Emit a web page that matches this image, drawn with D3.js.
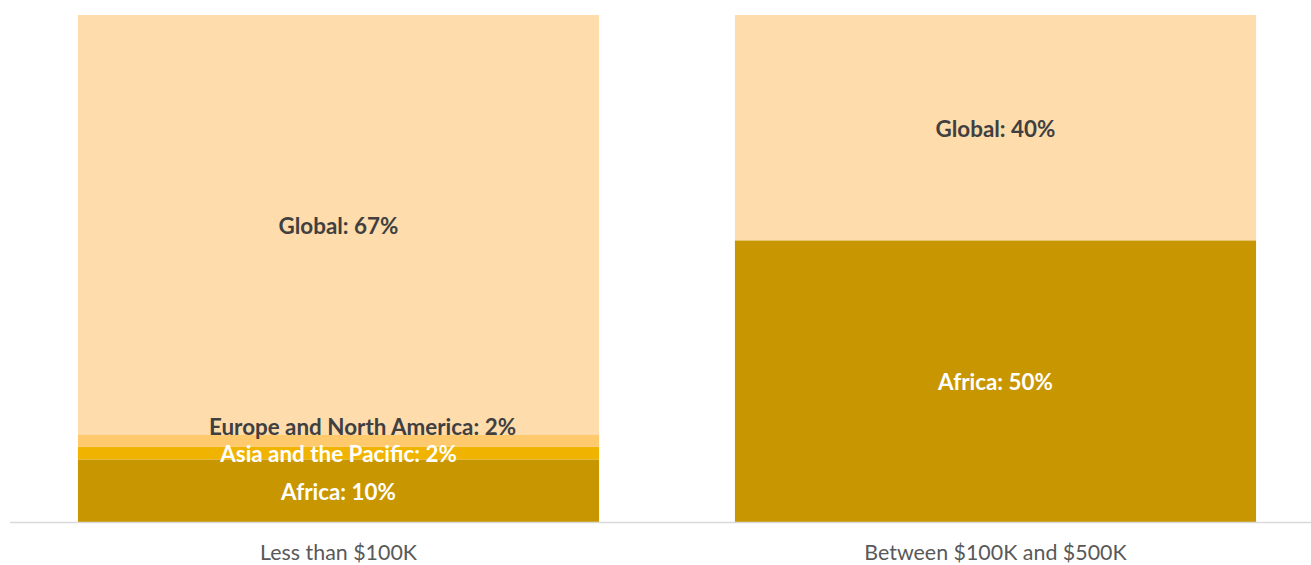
<!DOCTYPE html>
<html><head><meta charset="utf-8">
<script src="https://cdn.jsdelivr.net/npm/d3@7"></script>
<style>html,body{margin:0;padding:0;background:#fff;}svg{display:block;}</style>
</head><body>
<svg id="chart" width="1311" height="565"></svg>
<script>
const categories = ["Less than $100K", "Between $100K and $500K"];
const regions = ["Africa", "Asia and the Pacific", "Europe and North America", "Global"];
const africa = [10, 50];
const asiaPacific = [2, 0];
const europeNA = [2, 0];
const global = [67, 40];

const colors = {"Africa":"#C89600","Asia and the Pacific":"#F0B400","Europe and North America":"#FFCA6E","Global":"#FEDCAC"};
const labelColors = {"Africa":"#FFFFFF","Asia and the Pacific":"#FFFFFF","Europe and North America":"#404040","Global":"#404040"};

const seriesVals = [africa, asiaPacific, europeNA, global];
const rows = categories.map((c, i) => {
  const r = {category: c};
  regions.forEach((g, k) => r[g] = seriesVals[k][i]);
  return r;
});

const stack = d3.stack().keys(regions).offset(d3.stackOffsetExpand);
const series = stack(rows);

const svg = d3.select("#chart");
const x = d3.scaleBand().domain(categories).range([10, 1324]).paddingInner(0.2068).paddingOuter(0.1034);
const y = d3.scaleLinear().domain([0, 1]).range([522, 15]);

const g = svg.append("g");
series.forEach(s => {
  g.selectAll(null).data(s).enter().append("rect")
    .attr("x", d => x(d.data.category))
    .attr("width", x.bandwidth())
    .attr("y", d => y(d[1]))
    .attr("height", d => Math.max(0, y(d[0]) - y(d[1])))
    .attr("fill", colors[s.key]);
});

// axis line
svg.append("line").attr("x1", 10).attr("x2", 1311).attr("y1", 522.5).attr("y2", 522.5)
  .attr("stroke", "#D9D9D9").attr("stroke-width", 1.5);

// category labels
const xAxis = d3.axisBottom(x).tickSize(0).tickPadding(0);
const ax = svg.append("g").attr("transform", "translate(0,522)").call(xAxis);
ax.select(".domain").remove();
ax.selectAll("text").attr("dy", null).attr("y", 38)
  .attr("font-family", "Lato, 'Open Sans', sans-serif").attr("font-size", 21.4)
  .attr("fill", "#595959");

// data labels with simple collision avoidance
const nudgeX = {"Europe and North America": 24};
const minGap = 27;
categories.forEach((c, i) => {
  let prevY = null;
  series.forEach(s => {
    const d = s[i];
    const v = seriesVals[regions.indexOf(s.key)][i];
    if (!v) return;
    let ly = (y(d[0]) + y(d[1])) / 2;
    if (prevY !== null && prevY - ly < minGap) ly = prevY - minGap;
    prevY = ly;
    svg.append("text")
      .attr("x", x(c) + x.bandwidth() / 2 + (nudgeX[s.key] || 0))
      .attr("y", ly + 1)
      .attr("dy", "0.35em")
      .attr("text-anchor", "middle")
      .attr("font-family", "Lato, 'Open Sans', sans-serif")
      .attr("font-weight", "bold")
      .attr("font-size", 22.4)
      .attr("fill", labelColors[s.key])
      .text(`${s.key}: ${v}%`);
  });
});
</script>
</body></html>
